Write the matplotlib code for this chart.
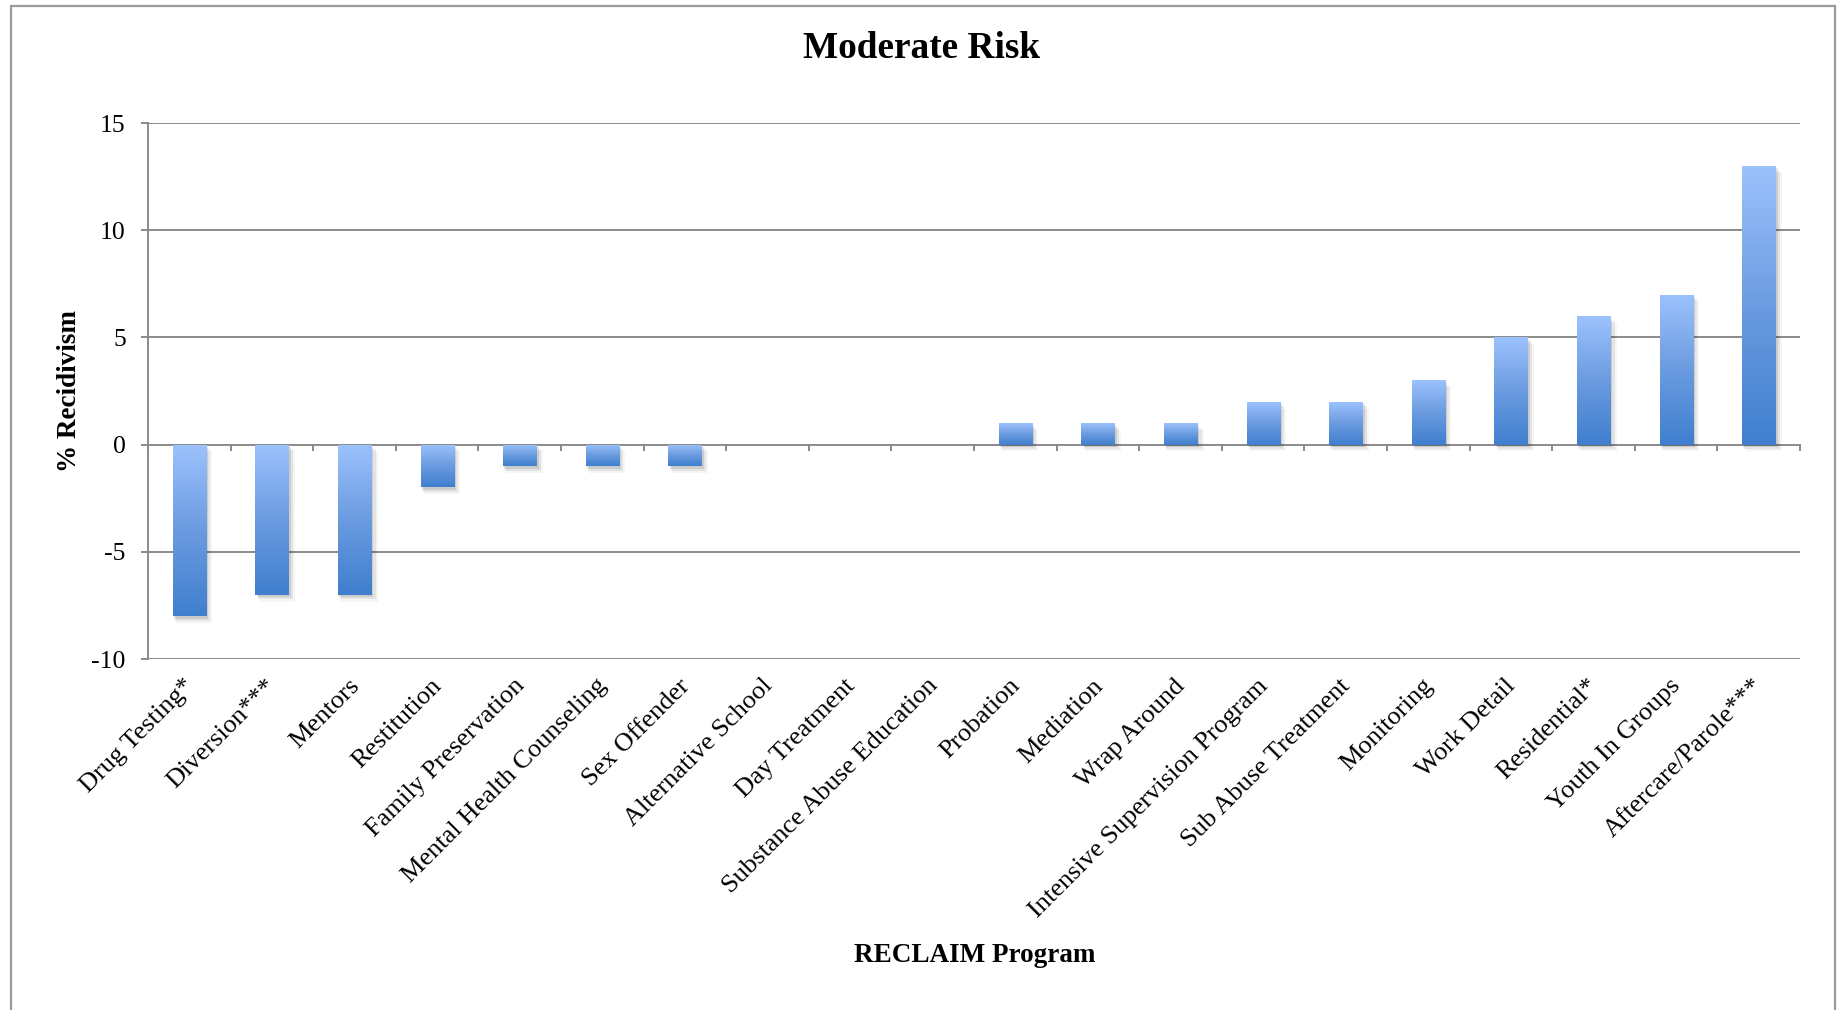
import numpy as np
import matplotlib
matplotlib.use('Agg')
import matplotlib.pyplot as plt
from matplotlib.colors import LinearSegmentedColormap
from matplotlib.patches import Rectangle

programs = ['Drug Testing*', 'Diversion***', 'Mentors', 'Restitution', 'Family Preservation',
            'Mental Health Counseling', 'Sex Offender', 'Alternative School', 'Day Treatment',
            'Substance Abuse Education', 'Probation', 'Mediation', 'Wrap Around',
            'Intensive Supervision Program', 'Sub Abuse Treatment', 'Monitoring', 'Work Detail',
            'Residential*', 'Youth In Groups', 'Aftercare/Parole***']
recidivism = [-8, -7, -7, -2, -1, -1, -1, 0, 0, 0, 1, 1, 1, 2, 2, 3, 5, 6, 7, 13]
yticks = [-10, -5, 0, 5, 10, 15]

plt.rcParams['font.family'] = ['Liberation Serif', 'DejaVu Serif']
grey = '#8a8a8a'

W, H = 1844, 1010
fig = plt.figure(figsize=(W / 100, H / 100), dpi=100)
ax = fig.add_axes([148 / W, 1 - 659 / H, (1800 - 148) / W, (659 - 123) / H])

# outer chart border
fig.patches.append(Rectangle((11 / W, -0.05), (1835 - 11) / W, 1.05 - 6 / H,
                             transform=fig.transFigure, fill=False,
                             edgecolor='#9a9a9a', linewidth=1.6))

x = np.arange(len(programs)) + 0.5
ax.set_xlim(0, len(programs))
ax.set_ylim(-10, 15)

for yv in yticks:
    ax.axhline(yv, color=grey, linewidth=1.4, zorder=1)

cmap = LinearSegmentedColormap.from_list('bar', ['#3f7fce', '#6b9be0', '#9cc2fd'])
grad = np.linspace(0, 1, 256).reshape(-1, 1)

bars = ax.bar(x, recidivism, width=0.4, color='none', edgecolor='none', zorder=3)
for b, v in zip(bars, recidivism):
    if v == 0:
        continue
    x0, w = b.get_x(), b.get_width()
    y0, y1 = min(0, v), max(0, v)
    # soft shadow
    for k, a in enumerate([0.10, 0.07, 0.04]):
        off = 0.03 + k * 0.025
        ax.add_patch(Rectangle((x0 + off * 0.5, y0 - off * 4), w + off * 0.5, y1 - y0,
                               facecolor='black', alpha=a, edgecolor='none', zorder=2))
    im = ax.imshow(grad, cmap=cmap, origin='lower', aspect='auto',
                   extent=[x0, x0 + w, y0, y1], zorder=3)
    im.set_clip_path(b)

ax.set_xlim(0, len(programs))
ax.set_ylim(-10, 15)

for s in ['top', 'right', 'bottom']:
    ax.spines[s].set_visible(False)
ax.spines['left'].set_color(grey)
ax.spines['left'].set_linewidth(1.4)

ax.set_yticks(yticks)
ax.set_yticklabels([str(t) for t in yticks], fontsize=18.5)
ax.tick_params(axis='y', direction='out', length=5, width=1.4, color=grey, pad=11)

# category axis crosses at zero, tick marks between categories
ax.set_xticks(np.arange(len(programs) + 1))
ax.set_xticklabels([])
ax.tick_params(axis='x', length=0)
for xb in np.arange(len(programs) + 1):
    ax.plot([xb, xb], [0, -0.25], color=grey, linewidth=1.4, zorder=1, clip_on=False)

for xi, name in zip(x, programs):
    ax.annotate(name, xy=(xi, 0), xycoords=('data', 'axes fraction'),
                xytext=(1, -17), textcoords='offset points',
                rotation=45, rotation_mode='anchor', ha='right', va='center',
                fontsize=19)

fig.text(0.5, 1 - 49 / H, 'Moderate Risk', ha='center', va='center',
         fontsize=26.8, fontweight='bold')
fig.text(69 / W, 1 - 391 / H, '% Recidivism', ha='center', va='center',
         rotation=90, fontsize=19.5, fontweight='bold')
fig.text(975 / W, 1 - 955 / H, 'RECLAIM Program', ha='center', va='center',
         fontsize=19.5, fontweight='bold')

fig.savefig('out.png', dpi=100)
